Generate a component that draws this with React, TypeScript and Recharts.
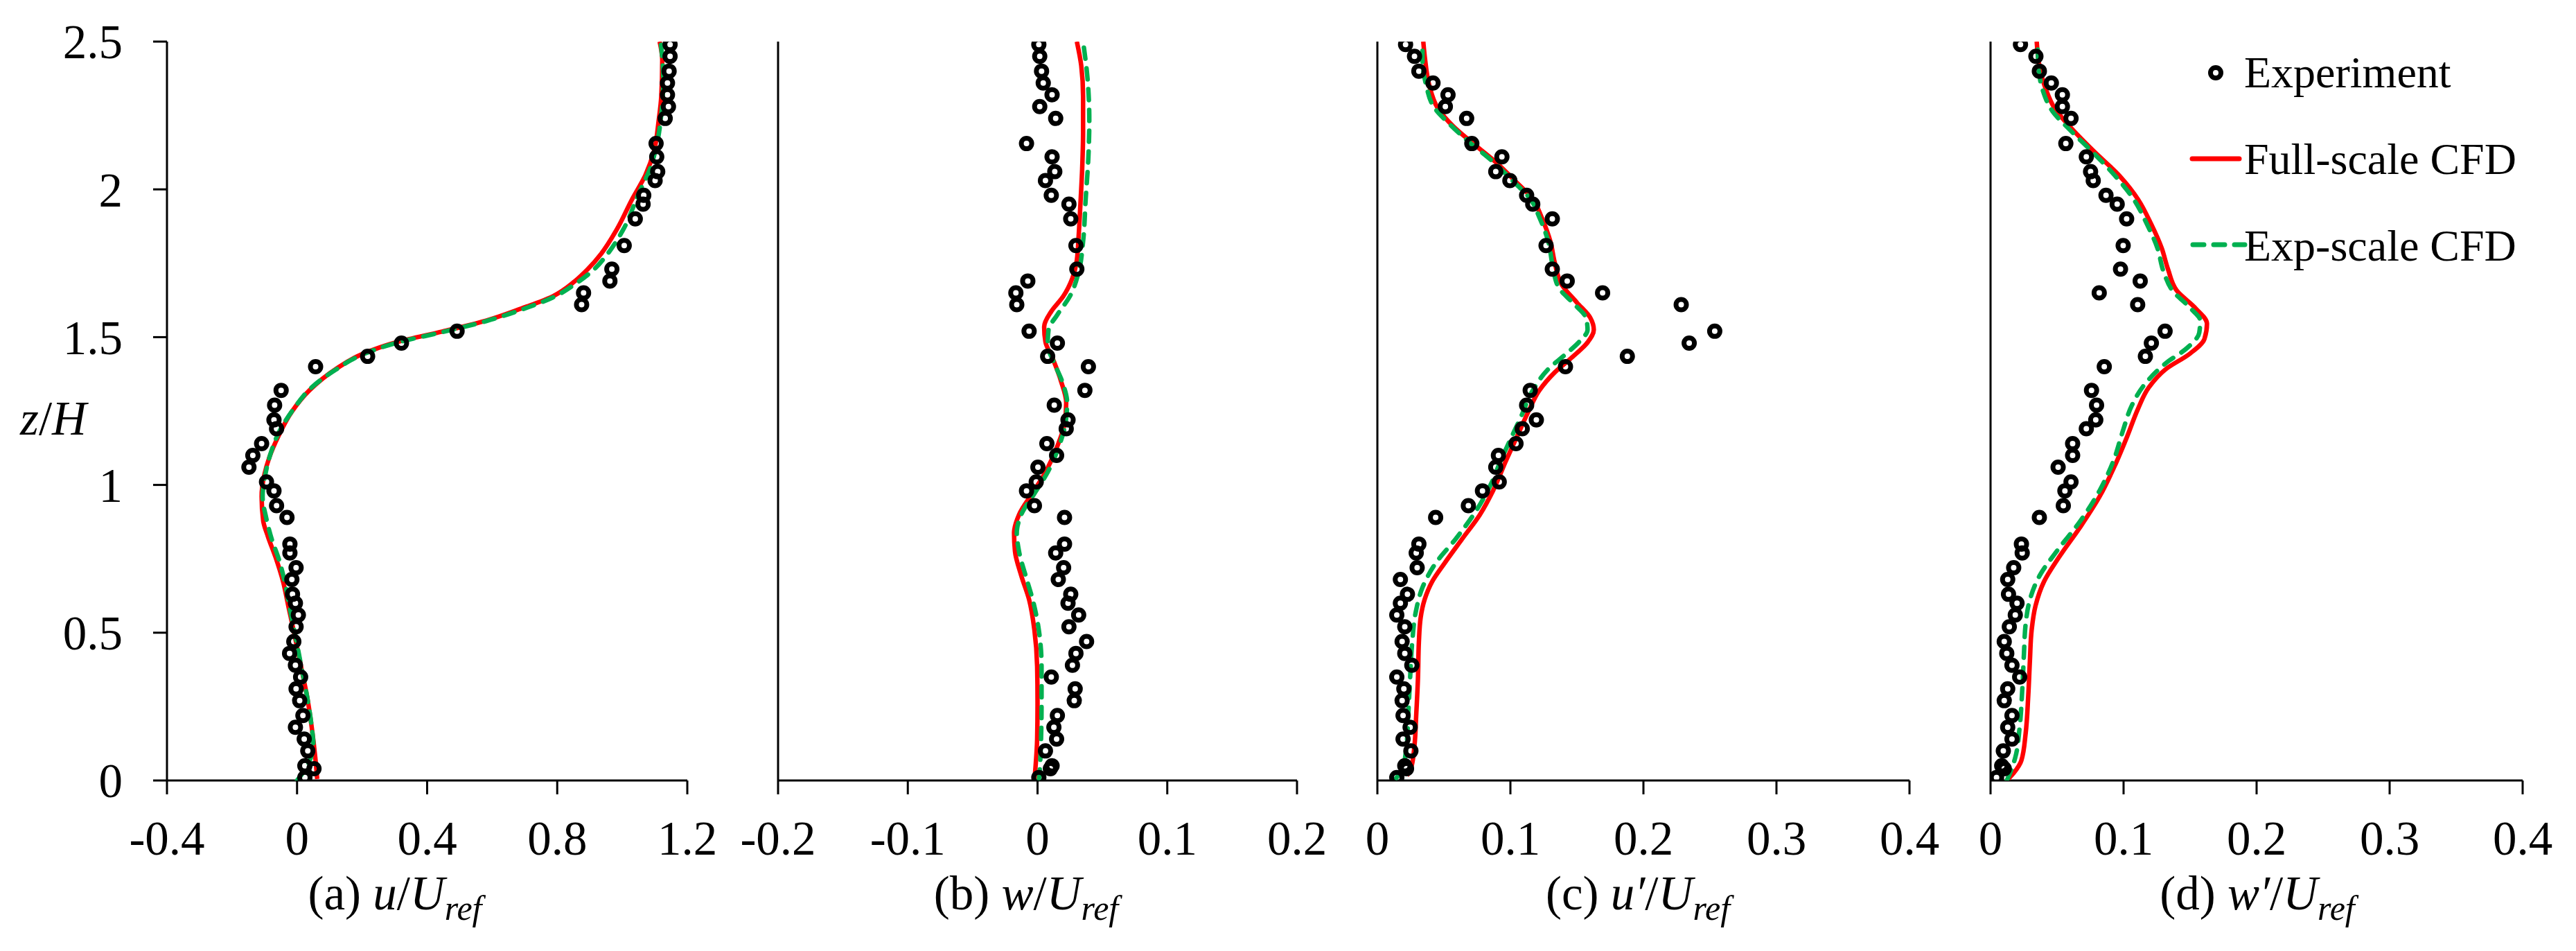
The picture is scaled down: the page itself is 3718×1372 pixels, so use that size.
import React from 'react';
import { ScatterChart, Scatter, XAxis, YAxis, Legend } from 'recharts';

const FONT = "'Liberation Serif', 'Times New Roman', serif";
const RED = '#ff0000';
const GREEN = '#00b050';
const DASH = '16 14';

const zTicks = [0, 0.5, 1, 1.5, 2, 2.5];
const uTicks = [-0.4, 0, 0.4, 0.8, 1.2];
const wTicks = [-0.2, -0.1, 0, 0.1, 0.2];
const rmsTicks = [0, 0.1, 0.2, 0.3, 0.4];
const legendNames = ['Experiment', 'Full-scale CFD', 'Exp-scale CFD'];

// measurement heights z/H (same for all four profiles)
const zExp = [
  2.49, 2.45, 2.4, 2.36, 2.32, 2.28, 2.24, 2.155, 2.11, 2.06, 2.03, 1.98, 1.95, 1.9, 1.81, 1.73, 1.69, 1.65,
  1.61, 1.52, 1.48, 1.435, 1.4, 1.32, 1.27, 1.22, 1.19, 1.14, 1.1, 1.06, 1.01, 0.98, 0.93, 0.89, 0.8, 0.77,
  0.72, 0.68, 0.63, 0.6, 0.56, 0.52, 0.47, 0.43, 0.39, 0.35, 0.31, 0.27, 0.22, 0.18, 0.14, 0.1, 0.05, 0.04,
  0.01,
];

// experiment values
const uExp = [
  1.147, 1.147, 1.144, 1.139, 1.139, 1.142, 1.132, 1.104, 1.106, 1.109, 1.101, 1.066, 1.064, 1.04, 1.006, 0.968,
  0.962, 0.881, 0.875, 0.492, 0.321, 0.217, 0.057, -0.049, -0.069, -0.071, -0.063, -0.109, -0.136, -0.148,
  -0.094, -0.071, -0.063, -0.031, -0.022, -0.022, -0.003, -0.016, -0.014, -0.005, 0.004, -0.003, -0.01, -0.023,
  -0.005, 0.011, -0.003, 0.008, 0.018, -0.005, 0.022, 0.033, 0.024, 0.052, 0.024,
];
const wExp = [
  0.001, 0.0017, 0.0031, 0.0044, 0.0112, 0.0017, 0.014, -0.0085, 0.0112, 0.0133, 0.0061, 0.0106, 0.0242, 0.0256,
  0.0296, 0.0303, -0.0075, -0.0167, -0.016, -0.0065, 0.0153, 0.0078, 0.0392, 0.0365, 0.0129, 0.0235, 0.0221,
  0.0072, 0.0147, 0.0003, -0.001, -0.0085, -0.0024, 0.0208, 0.0208, 0.014, 0.0201, 0.016, 0.0256, 0.0235, 0.0317,
  0.0242, 0.0378, 0.0296, 0.0269, 0.0106, 0.029, 0.0283, 0.0153, 0.0126, 0.0147, 0.0061, 0.0112, 0.0099, 0.001,
];
const uRmsExp = [
  0.0212, 0.0279, 0.0312, 0.0418, 0.0531, 0.0511, 0.0671, 0.071, 0.0936, 0.089, 0.0996, 0.1122, 0.1168, 0.1315,
  0.1268, 0.1315, 0.1427, 0.1693, 0.2284, 0.2536, 0.2344, 0.1879, 0.1414, 0.1149, 0.1122, 0.1195, 0.1089, 0.1042,
  0.091, 0.089, 0.0916, 0.079, 0.0684, 0.0438, 0.0312, 0.0292, 0.0299, 0.0173, 0.0226, 0.0173, 0.0146, 0.0206,
  0.0186, 0.0206, 0.0259, 0.0146, 0.0199, 0.0186, 0.0193, 0.0246, 0.0193, 0.0252, 0.0206, 0.0219, 0.0146,
];
const wRmsExp = [
  0.0225, 0.0341, 0.0367, 0.0457, 0.054, 0.054, 0.0605, 0.0566, 0.072, 0.0752, 0.0772, 0.0868, 0.0952, 0.1023,
  0.0997, 0.0977, 0.1125, 0.0817, 0.1106, 0.1312, 0.1209, 0.1164, 0.0855, 0.0759, 0.0797, 0.0791, 0.072, 0.0617,
  0.0617, 0.0508, 0.0605, 0.0559, 0.0547, 0.0367, 0.0232, 0.0238, 0.0174, 0.0129, 0.0135, 0.0199, 0.0186, 0.0141,
  0.0103, 0.0122, 0.0161, 0.0219, 0.0129, 0.0103, 0.0161, 0.0129, 0.0161, 0.0096, 0.0084, 0.0103, 0.0045,
];

// CFD profiles, read top to bottom
const uFullZ = [
  2.5, 2.438, 2.315, 2.233, 2.131, 2.048, 1.966, 1.864, 1.782, 1.73, 1.689, 1.638, 1.597, 1.556, 1.519, 1.484,
  1.443, 1.392, 1.32, 1.248, 1.166, 1.094, 1.032, 0.961, 0.878, 0.827, 0.755, 0.673, 0.591, 0.489, 0.386, 0.283,
  0.181, 0.078, 0.005,
];
const uFull = [
  1.115, 1.123, 1.12, 1.112, 1.098, 1.071, 1.03, 0.983, 0.935, 0.894, 0.854, 0.786, 0.69, 0.581, 0.446, 0.31,
  0.201, 0.119, 0.038, -0.016, -0.057, -0.085, -0.101, -0.109, -0.104, -0.09, -0.066, -0.043, -0.027, -0.007,
  0.012, 0.031, 0.045, 0.056, 0.062,
];
const uSmallZ = [
  2.5, 2.377, 2.254, 2.151, 2.069, 1.987, 1.864, 1.782, 1.724, 1.679, 1.634, 1.593, 1.554, 1.517, 1.482, 1.441,
  1.39, 1.33, 1.258, 1.182, 1.104, 1.032, 0.961, 0.889, 0.817, 0.745, 0.673, 0.591, 0.489, 0.386, 0.283, 0.181,
  0.119, 0.047, 0.0,
];
const uSmall = [
  1.118, 1.126, 1.12, 1.106, 1.085, 1.051, 1.003, 0.955, 0.908, 0.854, 0.786, 0.69, 0.581, 0.446, 0.31, 0.201,
  0.119, 0.045, -0.01, -0.054, -0.082, -0.098, -0.106, -0.095, -0.078, -0.055, -0.038, -0.024, -0.005, 0.013,
  0.031, 0.045, 0.05, 0.03, 0.0,
];

const wFullZ = [
  2.5, 2.418, 2.315, 2.192, 2.069, 1.946, 1.843, 1.761, 1.7, 1.638, 1.587, 1.535, 1.484, 1.433, 1.351, 1.279,
  1.207, 1.125, 1.043, 0.971, 0.899, 0.837, 0.776, 0.694, 0.612, 0.509, 0.386, 0.263, 0.14, 0.037, 0.0,
];
const wFull = [
  0.0303, 0.0337, 0.0351, 0.0351, 0.0344, 0.033, 0.0317, 0.0303, 0.0269, 0.0198, 0.0106, 0.0051, 0.0061, 0.0112,
  0.0181, 0.0221, 0.0208, 0.0147, 0.0061, -0.0041, -0.0143, -0.0181, -0.0174, -0.0126, -0.0065, -0.0024, -0.0003,
  0.0, -0.0003, -0.0017, -0.0024,
];
const wSmallZ = [
  2.5, 2.377, 2.233, 2.11, 1.966, 1.823, 1.72, 1.638, 1.576, 1.525, 1.474, 1.412, 1.34, 1.279, 1.207, 1.125,
  1.043, 0.971, 0.899, 0.837, 0.776, 0.683, 0.601, 0.509, 0.386, 0.263, 0.14, 0.037, 0.0,
];
const wSmall = [
  0.0351, 0.0385, 0.0399, 0.0392, 0.0371, 0.0351, 0.0317, 0.0249, 0.0153, 0.0085, 0.0078, 0.0129, 0.0198, 0.0228,
  0.0215, 0.016, 0.0078, -0.0024, -0.0126, -0.016, -0.0143, -0.0085, -0.0031, 0.001, 0.0031, 0.0031, 0.0027,
  0.0017, 0.001,
];

const uRmsFullZ = [
  2.5, 2.438, 2.356, 2.274, 2.213, 2.161, 2.1, 2.028, 1.966, 1.905, 1.823, 1.751, 1.679, 1.617, 1.566, 1.525,
  1.484, 1.433, 1.381, 1.32, 1.248, 1.166, 1.084, 0.981, 0.899, 0.817, 0.735, 0.673, 0.612, 0.55, 0.468, 0.345,
  0.222, 0.119, 0.047, 0.016,
];
const uRmsFull = [
  0.0345, 0.0359, 0.0388, 0.0455, 0.0571, 0.0704, 0.087, 0.1036, 0.1169, 0.1235, 0.1301, 0.1334, 0.1384, 0.15,
  0.16, 0.1627, 0.1583, 0.1467, 0.1334, 0.1218, 0.1135, 0.1052, 0.0969, 0.087, 0.077, 0.0637, 0.0505, 0.0412,
  0.0355, 0.0325, 0.0312, 0.0305, 0.0292, 0.0279, 0.0256, 0.0222,
];
const uRmsSmallZ = [
  2.5, 2.438, 2.356, 2.274, 2.223, 2.161, 2.1, 2.028, 1.966, 1.905, 1.823, 1.741, 1.669, 1.617, 1.566, 1.525,
  1.484, 1.443, 1.392, 1.32, 1.227, 1.156, 1.084, 1.002, 0.909, 0.817, 0.735, 0.653, 0.571, 0.468, 0.345, 0.222,
  0.119, 0.047, 0.006,
];
const uRmsSmall = [
  0.0339, 0.0339, 0.0365, 0.0432, 0.0538, 0.0687, 0.0853, 0.1019, 0.1152, 0.1218, 0.1285, 0.1318, 0.1361, 0.1467,
  0.1567, 0.158, 0.1517, 0.1417, 0.1285, 0.1168, 0.1076, 0.1002, 0.0929, 0.0853, 0.0737, 0.0588, 0.0438, 0.0339,
  0.0289, 0.0262, 0.0246, 0.0232, 0.0219, 0.0193, 0.0139,
];

const wRmsFullZ = [
  2.5, 2.418, 2.336, 2.274, 2.213, 2.131, 2.048, 1.966, 1.884, 1.802, 1.73, 1.658, 1.597, 1.546, 1.494, 1.443,
  1.392, 1.33, 1.258, 1.166, 1.063, 0.961, 0.858, 0.755, 0.673, 0.591, 0.509, 0.406, 0.283, 0.16, 0.068, 0.027,
  0.006,
];
const wRmsFull = [
  0.0347, 0.0367, 0.0418, 0.0482, 0.0595, 0.0772, 0.0965, 0.1109, 0.1206, 0.1286, 0.1334, 0.1399, 0.1543, 0.1627,
  0.1608, 0.1495, 0.1318, 0.119, 0.1109, 0.1029, 0.0932, 0.082, 0.0675, 0.0514, 0.0402, 0.0338, 0.0309, 0.0296,
  0.0283, 0.0264, 0.0232, 0.0177, 0.0135,
];
const wRmsSmallZ = [
  2.5, 2.418, 2.336, 2.264, 2.202, 2.131, 2.048, 1.966, 1.884, 1.802, 1.72, 1.658, 1.597, 1.556, 1.515, 1.464,
  1.412, 1.34, 1.268, 1.186, 1.084, 0.981, 0.878, 0.776, 0.694, 0.612, 0.53, 0.427, 0.304, 0.181, 0.078, 0.027,
  0.0,
];
const wRmsSmall = [
  0.0354, 0.036, 0.0392, 0.0466, 0.0595, 0.0756, 0.0932, 0.1077, 0.1174, 0.1254, 0.1302, 0.1367, 0.1505, 0.1576,
  0.1569, 0.1479, 0.1318, 0.1158, 0.1061, 0.0997, 0.0926, 0.082, 0.0675, 0.0498, 0.037, 0.0296, 0.0264, 0.0251,
  0.0238, 0.0219, 0.0186, 0.0148, 0.0122,
];

type Pt = { x: number; y: number };

const toPoints = (vals: number[], zs: number[]): Pt[] => zs.map((z, i) => ({ x: vals[i], y: z }));
// curves are drawn bottom to top so the monotone curve has increasing y
const toCurve = (vals: number[], zs: number[]): Pt[] => toPoints(vals, zs).sort((a, b) => a.y - b.y);

const NoDot = () => <g />;

const Ring = (props: any) => (
  <circle cx={props.cx} cy={props.cy} r={7.5} fill="none" stroke="#000" strokeWidth={7} />
);

const axisStyle = { stroke: '#000', strokeWidth: 3 };
const tickText = { fill: '#000', fontSize: 69, fontFamily: FONT };

const LegendBox = () => (
  <svg width={560} height={340} style={{ display: 'block', overflow: 'visible' }}>
    <circle cx={48} cy={65} r={7.5} fill="none" stroke="#000" strokeWidth={7} />
    <line x1={14} y1={189} x2={82} y2={189} stroke={RED} strokeWidth={7} strokeLinecap="round" />
    <line
      x1={15}
      y1={313}
      x2={90}
      y2={313}
      stroke={GREEN}
      strokeWidth={7}
      strokeDasharray={DASH}
      strokeLinecap="round"
    />
    {legendNames.map((name, i) => (
      <text key={name} x={89} y={86 + i * 125} fontSize={64} fill="#000" fontFamily={FONT}>
        {name}
      </text>
    ))}
  </svg>
);

type PanelProps = {
  left: number;
  yWidth: number;
  plotWidth: number;
  xTicks: number[];
  exp: Pt[];
  full: Pt[];
  small: Pt[];
  tag: string;
  sym: string;
  titleX: number;
  first?: boolean;
  withLegend?: boolean;
};

const Panel = ({ left, yWidth, plotWidth, xTicks, exp, full, small, tag, sym, titleX, first, withLegend }: PanelProps) => {
  const title = () => (
    <text x={titleX} y={1312} textAnchor="middle" fontSize={69} fill="#000" fontFamily={FONT}>
      <tspan>{tag + ' '}</tspan>
      <tspan fontStyle="italic">{sym}</tspan>
      <tspan>/</tspan>
      <tspan fontStyle="italic">U</tspan>
      <tspan fontStyle="italic" fontSize={50} dy={15}>
        ref
      </tspan>
    </text>
  );
  const zLabel = () => (
    <text x={77} y={627} textAnchor="middle" fontSize={69} fill="#000" fontFamily={FONT}>
      <tspan fontStyle="italic">z</tspan>
      <tspan>/</tspan>
      <tspan fontStyle="italic">H</tspan>
    </text>
  );
  return (
    <div style={{ position: 'absolute', left, top: 0 }}>
      <ScatterChart
        width={yWidth + plotWidth + 70}
        height={1372}
        margin={{ top: 60, right: 70, bottom: 0, left: 0 }}
      >
        <XAxis
          type="number"
          dataKey="x"
          domain={[xTicks[0], xTicks[xTicks.length - 1]]}
          ticks={xTicks}
          interval={0}
          allowDataOverflow
          height={246}
          tickSize={20}
          tickMargin={38}
          axisLine={axisStyle}
          tickLine={axisStyle}
          tick={tickText}
          label={{ content: title }}
        />
        <YAxis
          type="number"
          dataKey="y"
          domain={[0, 2.5]}
          ticks={zTicks}
          interval={0}
          allowDataOverflow
          width={yWidth}
          tickSize={20}
          tickMargin={44}
          axisLine={axisStyle}
          tickLine={axisStyle}
          tick={first ? tickText : false}
          label={first ? { content: zLabel } : undefined}
        />
        <Scatter
          name={legendNames[1]}
          data={full}
          line={{ stroke: RED, strokeWidth: 6.5 }}
          lineJointType="monotoneY"
          shape={NoDot}
          legendType="none"
          isAnimationActive={false}
        />
        <Scatter
          name={legendNames[2]}
          data={small}
          line={{ stroke: GREEN, strokeWidth: 6.5, strokeDasharray: DASH, strokeLinecap: 'round' }}
          lineJointType="monotoneY"
          shape={NoDot}
          legendType="none"
          isAnimationActive={false}
        />
        <Scatter name={legendNames[0]} data={exp} shape={Ring} legendType="none" isAnimationActive={false} />
        {withLegend && (
          <Legend
            layout="horizontal"
            verticalAlign="middle"
            align="center"
            wrapperStyle={{ left: 377, top: 40, width: 560, height: 340 }}
            content={LegendBox}
          />
        )}
      </ScatterChart>
    </div>
  );
};

export default function App() {
  return (
    <div
      style={{
        position: 'absolute',
        left: 0,
        top: 0,
        width: 3718,
        height: 1372,
        background: '#fff',
        overflow: 'hidden',
      }}
    >
      <Panel
        left={0}
        yWidth={241}
        plotWidth={751}
        xTicks={uTicks}
        exp={toPoints(uExp, zExp)}
        full={toCurve(uFull, uFullZ)}
        small={toCurve(uSmall, uSmallZ)}
        tag="(a)"
        sym="u"
        titleX={570}
        first
      />
      <Panel
        left={1023}
        yWidth={100}
        plotWidth={749}
        xTicks={wTicks}
        exp={toPoints(wExp, zExp)}
        full={toCurve(wFull, wFullZ)}
        small={toCurve(wSmall, wSmallZ)}
        tag="(b)"
        sym="w"
        titleX={458}
      />
      <Panel
        left={1888}
        yWidth={100}
        plotWidth={768}
        xTicks={rmsTicks}
        exp={toPoints(uRmsExp, zExp)}
        full={toCurve(uRmsFull, uRmsFullZ)}
        small={toCurve(uRmsSmall, uRmsSmallZ)}
        tag="(c)"
        sym={"u\u2032"}
        titleX={476}
      />
      <Panel
        left={2773}
        yWidth={100}
        plotWidth={768}
        xTicks={rmsTicks}
        exp={toPoints(wRmsExp, zExp)}
        full={toCurve(wRmsFull, wRmsFullZ)}
        small={toCurve(wRmsSmall, wRmsSmallZ)}
        tag="(d)"
        sym={"w\u2032"}
        titleX={485}
        withLegend
      />
    </div>
  );
}
